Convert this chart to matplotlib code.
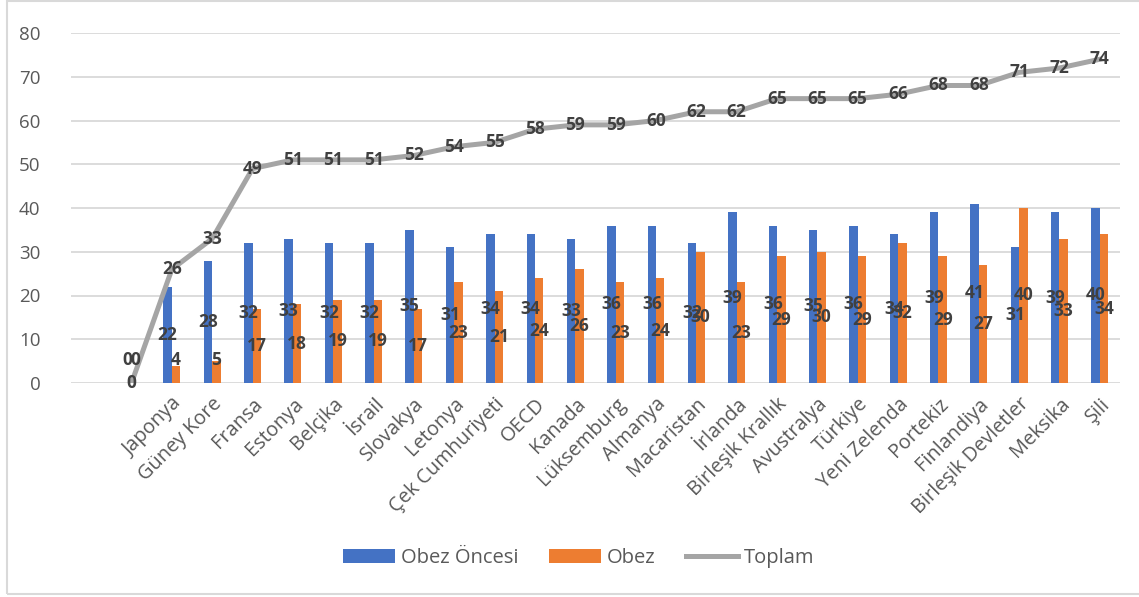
import numpy as np
import matplotlib.pyplot as plt
from matplotlib.patches import Rectangle

# data (first slot is an empty category, second has a blank label with zeros)
ulkeler = ['', 'Japonya', 'Güney Kore', 'Fransa', 'Estonya', 'Belçika', 'İsrail',
           'Slovakya', 'Letonya', 'Çek Cumhuriyeti', 'OECD', 'Kanada', 'Lüksemburg',
           'Almanya', 'Macaristan', 'İrlanda', 'Birleşik Krallık', 'Avustralya',
           'Türkiye', 'Yeni Zelenda', 'Portekiz', 'Finlandiya', 'Birleşik Devletler',
           'Meksika', 'Şili']
obez_oncesi = [0, 22, 28, 32, 33, 32, 32, 35, 31, 34, 34, 33, 36, 36, 32, 39, 36, 35,
               36, 34, 39, 41, 31, 39, 40]
obez = [0, 4, 5, 17, 18, 19, 19, 17, 23, 21, 24, 26, 23, 24, 30, 23, 29, 30, 29, 32,
        29, 27, 40, 33, 34]
toplam = [0, 26, 33, 49, 51, 51, 51, 52, 54, 55, 58, 59, 59, 60, 62, 62, 65, 65, 65,
          66, 68, 68, 71, 72, 74]

BLUE = '#4472C4'
ORANGE = '#ED7D31'
GRAY = '#A5A5A5'
LBL = '#404040'
TICK = '#595959'
FONT = 'Open Sans'

fig = plt.figure(figsize=(11.39, 5.97), dpi=100)
ax = fig.add_axes([71 / 1139, 1 - 383 / 597, (1120 - 71) / 1139, (383 - 33) / 597])

x = np.arange(len(ulkeler))
w = 0.21
b1 = ax.bar(x - w / 2, obez_oncesi, w, color=BLUE, label='Obez Öncesi', zorder=2)
b2 = ax.bar(x + w / 2, obez, w, color=ORANGE, label='Obez', zorder=2)
l1, = ax.plot(x, toplam, color=GRAY, lw=3.6, label='Toplam', zorder=3,
              solid_joinstyle='round')

lblkw = dict(ha='center', va='center', fontsize=12.5, fontweight='bold',
             color=LBL, family=FONT, zorder=5)
for i in range(len(ulkeler)):
    ax.text(x[i] - w / 2, max(obez_oncesi[i] / 2, 5.3), str(obez_oncesi[i]), **lblkw)
    ax.text(x[i] + w / 2, max(obez[i] / 2, 5.3), str(obez[i]), **lblkw)
    ax.text(x[i], toplam[i], str(toplam[i]), **lblkw)

ax.set_xlim(-1.5, len(ulkeler) - 0.5)
ax.set_ylim(0, 80)
ax.set_yticks(range(0, 81, 10))
ax.grid(axis='y', color='#D9D9D9', lw=1.3, zorder=0)
ax.set_axisbelow(True)
for s in ax.spines.values():
    s.set_visible(False)
ax.tick_params(length=0)
ax.tick_params(axis='y', pad=22)
for t in ax.get_yticklabels():
    t.set_fontsize(13.5)
    t.set_color(TICK)
    t.set_family(FONT)

ax.set_xticks(x)
ax.set_xticklabels(ulkeler, rotation=45, ha='right', va='top',
                   rotation_mode='anchor', fontsize=14.3, color=TICK, family=FONT)
ax.tick_params(axis='x', pad=8)

leg = ax.legend([b1, b2, l1], ['Obez Öncesi', 'Obez', 'Toplam'],
                loc='center', bbox_to_anchor=(0.484, -0.5), ncol=3, frameon=False,
                handlelength=2.6, handleheight=0.65, columnspacing=1.5,
                handletextpad=0.3, prop={'family': FONT, 'size': 14.5})
for t in leg.get_texts():
    t.set_color(TICK)

# outer chart border
fig.patches.append(Rectangle((7 / 1139, 3 / 597), 1.0, 593 / 597, transform=fig.transFigure,
                             fill=False, edgecolor='#D9D9D9', lw=1.5))

fig.savefig('out.png', dpi=100)
